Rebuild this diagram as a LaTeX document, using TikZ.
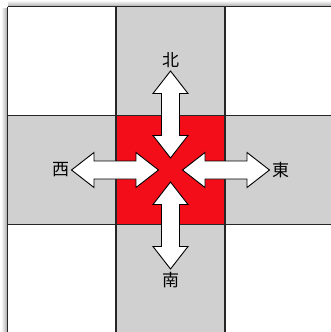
\documentclass[tikz,border=0pt]{standalone}
\usepackage{fontspec}
\usepackage{xcolor}
\usepackage{tikz}
\usetikzlibrary{calc}
\newfontfamily\cjk{Noto Sans CJK JP}
\definecolor{cellgray}{RGB}{208,208,208}
\definecolor{hotred}{RGB}{242,13,24}

\tikzset{
  gridline/.style={line width=1.2pt,black!85},
  dirlabel/.style={font=\cjk\fontsize{17}{19}\selectfont,inner sep=0pt},
  blockarrow/.style={fill=white,draw=black,line width=0.9pt,line join=miter}
}

\begin{document}
\begin{tikzpicture}[x=1pt,y=-1pt]
\useasboundingbox (0,0) rectangle (331,332);
\clip (0,0) rectangle (331,332);
% soft shadow on the left and top edges
\shade[left color=white,right color=black!35] (1,8) rectangle (7.5,332);
\shade[top color=white,bottom color=black!35] (8,0.5) rectangle (331,6.7);
% cells
\fill[white] (7.5,6.7) rectangle (340,340);
\fill[cellgray] (116,6.7) rectangle (225,340);
\fill[cellgray] (7.5,115.7) rectangle (340,224.3);
\fill[hotred] (116,115.7) rectangle (225,224.3);
\foreach \xx in {7.5,116,225}{\draw[gridline] (\xx,6.7)--(\xx,340);}
\foreach \yy in {6.7,115.7,224.3}{\draw[gridline] (7.5,\yy)--(340,\yy);}
\coordinate (mid) at (170.5,170);
% double block arrows and labels
\foreach \ang/\nm/\txt in {0/east/東,90/south/南,180/west/西,270/north/北}{
  \begin{scope}[shift={(mid)},rotate=\ang]
    \draw[blockarrow] (12,0)--(34.5,17.5)--(34.5,9)--(76.5,9)--(76.5,17.5)--(99,0)
      --(76.5,-17.5)--(76.5,-9)--(34.5,-9)--(34.5,-17.5)--cycle;
  \end{scope}
  \node[dirlabel] (\nm) at ($(mid)+({110*cos(\ang)},{110*sin(\ang)})$) {\txt};}
\end{tikzpicture}
\end{document}
